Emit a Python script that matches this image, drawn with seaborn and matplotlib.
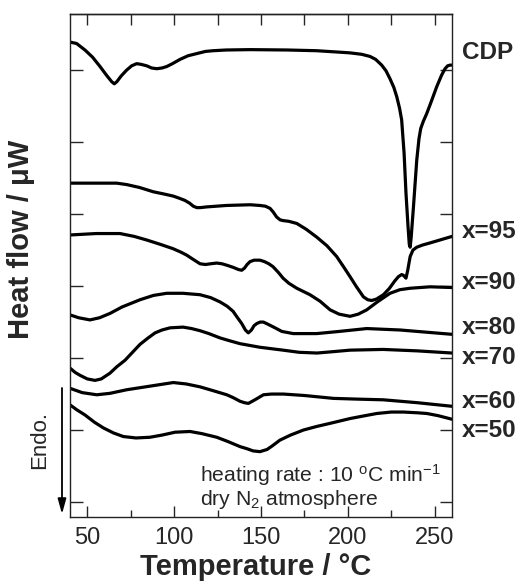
import matplotlib
matplotlib.use("Agg")
import matplotlib.pyplot as plt
import seaborn as sns
import pandas as pd
from matplotlib.ticker import MultipleLocator

# ---- data (temperature in °C, heat flow in arbitrary units, curves offset) ----
cdp_T = [40, 43.8, 48.6, 53, 57.3, 61, 64, 65.5, 67, 69.5, 72.6, 75.5, 78.4, 81, 84.2, 87, 90,
         93, 95.7, 99, 103.4, 108, 113, 118, 122.4, 130, 143.7, 165, 182, 195, 201.3, 208,
         212.8, 216, 219.5, 222, 224.3, 226.5, 228.2, 229.8, 231, 232.4, 233.5, 234.7, 235.4,
         235.9, 236.5, 237.8, 239.7, 241, 242, 243.5, 245.5, 248, 251.2, 254, 256, 257.5,
         258.9, 260]
cdp_v = [6.39, 6.37, 6.28, 6.18, 6.05, 5.93, 5.84, 5.81, 5.84, 5.92, 6.00, 6.06, 6.09, 6.08,
         6.06, 6.03, 6.02, 6.03, 6.05, 6.09, 6.15, 6.20, 6.23, 6.26, 6.27, 6.28, 6.285, 6.28,
         6.27, 6.25, 6.24, 6.22, 6.19, 6.15, 6.07, 5.99, 5.88, 5.76, 5.63, 5.47, 5.31, 4.85,
         4.29, 3.82, 3.58, 3.54, 3.68, 4.10, 4.75, 5.05, 5.19, 5.29, 5.40, 5.56, 5.77, 5.93,
         6.02, 6.06, 6.07, 6.07]

x95_T = [40, 55, 66.9, 72.7, 80, 88, 94, 99.5, 103, 106.2, 109, 111, 113, 115, 118.7, 130,
         143.7, 149.4, 152.5, 155.2, 157, 159, 161, 162.7, 166, 170.6, 176, 182.1, 188, 193.6,
         197.5, 201.3, 205, 209, 211.5, 213.8, 216.5, 220.5, 224, 227, 229.1, 231, 232, 233.5,
         234.5, 235.9, 237.5, 239.7, 243, 247.4, 253, 260]
x95_v = [4.43, 4.43, 4.43, 4.41, 4.37, 4.31, 4.28, 4.25, 4.22, 4.19, 4.15, 4.11, 4.09, 4.09,
         4.10, 4.12, 4.13, 4.12, 4.11, 4.08, 4.03, 3.96, 3.92, 3.91, 3.90, 3.87, 3.79, 3.68,
         3.56, 3.41, 3.27, 3.13, 2.99, 2.85, 2.81, 2.80, 2.82, 2.88, 2.97, 3.07, 3.13, 3.16,
         3.15, 3.11, 3.22, 3.41, 3.50, 3.54, 3.57, 3.60, 3.64, 3.69]

x90_T = [40, 55, 68.8, 77, 84.2, 92, 99.3, 104, 107.2, 111, 114.9, 118, 121, 124.5, 127.5,
         130.3, 134, 137, 138.9, 140.5, 142, 143.7, 146, 149.4, 152, 154.5, 156.9, 160, 162.7,
         166, 170.6, 174, 178.2, 184, 189.8, 195, 201.3, 206, 210.9, 217, 224.3, 230, 235.9,
         247.4, 260]
x90_v = [3.71, 3.73, 3.73, 3.69, 3.64, 3.58, 3.52, 3.47, 3.43, 3.37, 3.31, 3.30, 3.31, 3.32,
         3.31, 3.29, 3.26, 3.23, 3.22, 3.25, 3.30, 3.34, 3.36, 3.36, 3.34, 3.31, 3.27, 3.19,
         3.11, 3.04, 2.97, 2.93, 2.88, 2.79, 2.67, 2.61, 2.58, 2.61, 2.67, 2.78, 2.90, 2.95,
         2.97, 2.99, 2.98]

x80_T = [40, 45, 51.5, 57, 63, 70, 80.3, 88, 95.7, 105, 114.9, 121, 126.4, 130.5, 133.9,
         136.5, 138.9, 141, 142.7, 144.5, 146, 147.6, 149.5, 151.4, 154, 158.1, 162, 168.6,
         182.1, 195, 210.9, 230.1, 245, 260]
x80_v = [2.60, 2.56, 2.53, 2.56, 2.62, 2.71, 2.81, 2.87, 2.90, 2.90, 2.88, 2.84, 2.78, 2.72,
         2.65, 2.56, 2.48, 2.39, 2.35, 2.39, 2.45, 2.48, 2.50, 2.50, 2.47, 2.42, 2.37, 2.34,
         2.34, 2.37, 2.41, 2.39, 2.36, 2.33]

x70_T = [40, 43, 45.8, 50, 54.4, 58, 63, 67, 71.7, 76, 80.3, 85, 89, 93, 97.6, 105.1, 110,
         114.9, 120, 126.4, 132, 137.9, 149.4, 162.7, 172, 182.3, 192, 201.3, 220.3, 240, 260]
x70_v = [1.86, 1.80, 1.76, 1.71, 1.69, 1.71, 1.79, 1.88, 1.97, 2.08, 2.19, 2.28, 2.35, 2.39,
         2.42, 2.43, 2.41, 2.38, 2.34, 2.28, 2.24, 2.20, 2.15, 2.11, 2.08, 2.07, 2.09, 2.11,
         2.12, 2.10, 2.07]

x60_T = [40, 47, 55.4, 63, 72.7, 86.1, 99.5, 107, 114.9, 122, 130.3, 134, 137.9, 140.5,
         142.7, 145, 147.2, 151.4, 156, 162.9, 175, 191.7, 205, 220.5, 240, 260]
x60_v = [1.58, 1.52, 1.49, 1.51, 1.56, 1.61, 1.66, 1.64, 1.60, 1.55, 1.49, 1.45, 1.40, 1.38,
         1.37, 1.40, 1.43, 1.49, 1.50, 1.50, 1.48, 1.44, 1.43, 1.42, 1.38, 1.33]

x50_T = [40, 44, 48.6, 54, 59.2, 65, 70.7, 78, 86.1, 93, 100.5, 109.1, 116, 124.5, 131,
         137.9, 142, 145.5, 149.4, 153.5, 156.5, 160.9, 167, 174.4, 182.1, 191, 201.3, 210,
         216.7, 225, 232, 240, 245.5, 252, 260]
x50_v = [1.35, 1.28, 1.21, 1.11, 1.03, 0.96, 0.91, 0.89, 0.90, 0.93, 0.97, 0.98, 0.95, 0.90,
         0.84, 0.77, 0.74, 0.71, 0.70, 0.73, 0.78, 0.86, 0.93, 1.00, 1.05, 1.10, 1.16, 1.20,
         1.23, 1.25, 1.25, 1.24, 1.23, 1.20, 1.15]

labels = ["CDP", "x=95", "x=90", "x=80", "x=70", "x=60", "x=50"]
label_y = [6.24, 3.76, 3.05, 2.42, 2.01, 1.39, 1.00]
series_T = [cdp_T, x95_T, x90_T, x80_T, x70_T, x60_T, x50_T]
series_v = [cdp_v, x95_v, x90_v, x80_v, x70_v, x60_v, x50_v]

rows = []
for name, ts, vs in zip(labels, series_T, series_v):
    for t, v in zip(ts, vs):
        rows.append({"sample": name, "T": t, "v": v})
df = pd.DataFrame(rows)

# ---- style ----
sns.set_style("ticks")
plt.rcParams["font.family"] = ["Liberation Sans", "DejaVu Sans"]
plt.rcParams["mathtext.fontset"] = "custom"
plt.rcParams["mathtext.rm"] = "Liberation Sans"
plt.rcParams["mathtext.it"] = "Liberation Sans:italic"
plt.rcParams["mathtext.bf"] = "Liberation Sans:bold"

fig = plt.figure(figsize=(5.2, 5.84), dpi=100)
ax = fig.add_axes([70 / 520, 1 - 517 / 584, 382 / 520, 503 / 584])

sns.lineplot(data=df, x="T", y="v", units="sample", estimator=None, sort=False,
             color="black", linewidth=2.3, ax=ax, legend=False)
for ln in ax.lines:
    ln.set_solid_joinstyle("round")
    ln.set_solid_capstyle("round")

ax.set_xlim(40, 260)
ax.set_ylim(-0.208, 6.78)
ax.xaxis.set_major_locator(MultipleLocator(50))
ax.xaxis.set_minor_locator(MultipleLocator(25))
ax.set_yticks(range(0, 7))
ax.set_yticklabels([])

for s in ax.spines.values():
    s.set_linewidth(1.0)
    s.set_color("#222222")

ax.tick_params(axis="x", which="major", direction="in", length=8, width=1.0,
               labelsize=17, pad=7, top=False)
ax.tick_params(axis="x", which="minor", direction="in", length=5, width=1.0, top=False)
ax.tick_params(axis="y", which="major", direction="in", length=9, width=1.0,
               left=True, right=True)

top = ax.secondary_xaxis("top")
top.set_xticks([50, 75, 100, 125, 150, 175, 200, 225, 250])
top.tick_params(direction="in", length=8, width=1.0, labeltop=False)
top.spines["top"].set_linewidth(1.0)

ax.set_xlabel("Temperature / °C", fontsize=21, fontweight="bold")
ax.xaxis.set_label_coords(0.486, -0.072)
ax.xaxis.label.set_va("top")
ax.set_ylabel("Heat flow / μW", fontsize=21, fontweight="bold")
ax.yaxis.set_label_coords(-0.092, 0.551)
ax.yaxis.label.set_va("bottom")

for name, yv in zip(labels, label_y):
    ax.annotate(name, xy=(1.026, yv), xycoords=("axes fraction", "data"),
                fontsize=17.5, fontweight="bold", va="center", ha="left",
                annotation_clip=False)

ax.text(114.9, 0.285, r"heating rate : 10 $^{\rm o}$C min$^{-1}$", fontsize=15.2,
        ha="left", va="baseline")
ax.text(114.9, -0.045, r"dry N$_2$ atmosphere", fontsize=15.2, ha="left", va="baseline")

fig.text(40 / 520, 1 - 440 / 584, "Endo.", rotation=90, fontsize=16,
         ha="center", va="center")
ax.annotate("", xy=(62 / 520, 1 - 514 / 584), xytext=(62 / 520, 1 - 388 / 584),
            xycoords="figure fraction", textcoords="figure fraction",
            arrowprops=dict(arrowstyle="-|>,head_length=0.9,head_width=0.25",
                            color="black", lw=1.3, shrinkA=0, shrinkB=0),
            annotation_clip=False)

fig.savefig("out.png", dpi=100)
